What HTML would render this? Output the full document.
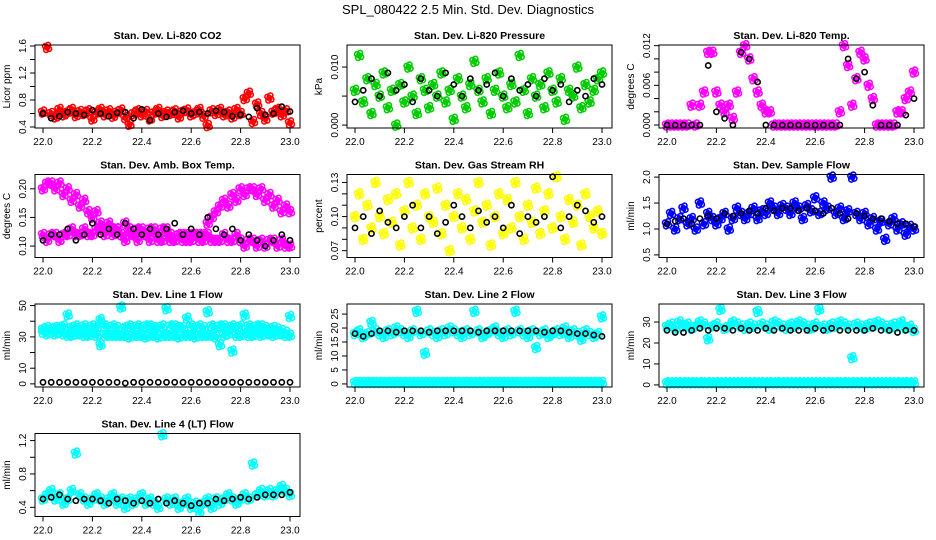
<!DOCTYPE html>
<html><head><meta charset="utf-8"><style>
body{margin:0;background:#fff;}
svg{display:block;font-family:"Liberation Sans",sans-serif;}
</style></head><body>
<svg id="chart" width="936" height="540" viewBox="0 0 936 540" xmlns="http://www.w3.org/2000/svg">
<rect x="0" y="0" width="936" height="540" fill="#fff"/>
<text x="468" y="14" text-anchor="middle" font-size="13">SPL_080422  2.5 Min. Std. Dev. Diagnostics</text>
<g id="plots"></g>
</svg>
<script>
const times = [22.0,22.0167,22.0333,22.05,22.0667,22.0833,22.1,22.1167,22.1333,22.15,22.1667,22.1833,22.2,22.2167,22.2333,22.25,22.2667,22.2833,22.3,22.3167,22.3333,22.35,22.3667,22.3833,22.4,22.4167,22.4333,22.45,22.4667,22.4833,22.5,22.5167,22.5333,22.55,22.5667,22.5833,22.6,22.6167,22.6333,22.65,22.6667,22.6833,22.7,22.7167,22.7333,22.75,22.7667,22.7833,22.8,22.8167,22.8333,22.85,22.8667,22.8833,22.9,22.9167,22.9333,22.95,22.9667,22.9833,23.0];
const xTicks = [22.0,22.2,22.4,22.6,22.8,23.0];
const xTickLabels = ["22.0","22.2","22.4","22.6","22.8","23.0"];

const co2Red = [0.62,1.58,0.6,0.55,0.66,0.58,0.62,0.66,0.57,0.63,0.6,0.64,0.52,0.61,0.66,0.58,0.64,0.56,0.62,0.65,0.54,0.44,0.6,0.64,0.58,0.63,0.52,0.61,0.66,0.57,0.62,0.6,0.64,0.55,0.63,0.65,0.58,0.61,0.66,0.56,0.42,0.64,0.6,0.66,0.58,0.62,0.55,0.66,0.6,0.82,0.9,0.48,0.74,0.6,0.52,0.83,0.62,0.66,0.58,0.64,0.46];
const co2Black = [0.6,0.53,0.56,0.62,0.6,0.58,0.65,0.6,0.56,0.61,0.62,0.53,0.66,0.5,0.6,0.55,0.62,0.64,0.6,0.62,0.6,0.64,0.62,0.56,0.58,0.55,0.68,0.58,0.6,0.7,0.63];
const presGreen = [0.006,0.012,0.004,0.008,0.002,0.007,0.005,0.009,0.003,0.006,0.0,0.007,0.004,0.01,0.005,0.002,0.008,0.006,0.003,0.007,0.005,0.009,0.004,0.006,0.001,0.008,0.005,0.003,0.007,0.011,0.006,0.004,0.008,0.002,0.006,0.009,0.005,0.003,0.007,0.004,0.012,0.006,0.002,0.008,0.005,0.007,0.003,0.009,0.006,0.004,0.008,0.001,0.006,0.005,0.01,0.003,0.007,0.004,0.006,0.008,0.009];
const presBlack = [0.004,0.006,0.008,0.005,0.009,0.006,0.007,0.004,0.008,0.006,0.005,0.009,0.007,0.005,0.008,0.006,0.007,0.009,0.005,0.008,0.006,0.007,0.005,0.008,0.006,0.007,0.004,0.006,0.005,0.008,0.007];
const tempMag = [0,0,0,0,0,0,0.003,0,0.003,0.005,0.011,0.011,0.005,0.003,0.002,0.003,0.001,0.005,0.011,0.012,0.01,0.007,0.005,0.003,0.002,0.002,0,0,0,0,0,0,0,0,0,0,0,0,0,0,0,0,0.002,0.012,0.009,0.003,0.007,0.011,0.01,0.006,0.004,0,0,0,0,0,0.002,0.002,0.004,0.005,0.008];
const tempBlack = [0,0,0,0,0,0.009,0.002,0.001,0,0.011,0.01,0.0065,0,0,0,0,0,0,0,0,0,0,0.01,0.007,0.008,0.003,0,0,0,0.0015,0.004];
const ambMagA = [0.2,0.21,0.21,0.2,0.21,0.19,0.2,0.18,0.19,0.17,0.18,0.16,0.15,0.16,0.14,0.13,0.14,0.12,0.13,0.12,0.11,0.12,0.12,0.11,0.12,0.12,0.11,0.12,0.11,0.11,0.12,0.11,0.11,0.12,0.11,0.12,0.11,0.12,0.11,0.12,0.14,0.15,0.16,0.17,0.18,0.17,0.19,0.18,0.2,0.19,0.2,0.2,0.19,0.2,0.18,0.19,0.17,0.18,0.16,0.17,0.16];
const ambMagB = [0.12,0.11,0.12,0.12,0.11,0.12,0.12,0.13,0.12,0.12,0.13,0.12,0.12,0.13,0.13,0.12,0.13,0.13,0.13,0.12,0.14,0.13,0.12,0.13,0.13,0.12,0.13,0.13,0.12,0.13,0.13,0.12,0.11,0.12,0.12,0.11,0.12,0.12,0.12,0.11,0.12,0.11,0.11,0.11,0.12,0.11,0.11,0.12,0.11,0.1,0.11,0.11,0.1,0.11,0.1,0.11,0.11,0.1,0.11,0.1,0.1];
const ambBlack = [0.11,0.12,0.12,0.13,0.11,0.12,0.14,0.12,0.13,0.12,0.14,0.13,0.12,0.13,0.12,0.13,0.14,0.12,0.13,0.12,0.15,0.13,0.12,0.13,0.11,0.12,0.11,0.1,0.11,0.12,0.11];
const rhYellow = [0.1,0.12,0.08,0.11,0.09,0.13,0.1,0.085,0.115,0.095,0.12,0.075,0.105,0.13,0.09,0.11,0.08,0.12,0.1,0.095,0.125,0.085,0.11,0.07,0.1,0.12,0.09,0.115,0.08,0.105,0.13,0.095,0.11,0.075,0.1,0.12,0.085,0.115,0.09,0.13,0.1,0.08,0.11,0.095,0.125,0.085,0.105,0.12,0.09,0.135,0.1,0.08,0.115,0.095,0.11,0.075,0.12,0.1,0.09,0.105,0.085];
const rhBlack = [0.09,0.1,0.085,0.105,0.095,0.09,0.1,0.11,0.09,0.1,0.085,0.095,0.11,0.1,0.09,0.105,0.095,0.1,0.09,0.11,0.085,0.1,0.095,0.1,0.135,0.09,0.1,0.11,0.105,0.095,0.1];
const flowBlue = [1.1,1.3,1.0,1.2,1.4,1.1,1.2,1.0,1.5,1.1,1.3,1.2,1.1,1.2,1.3,1.0,1.2,1.4,1.3,1.2,1.3,1.4,1.2,1.35,1.3,1.5,1.4,1.3,1.45,1.4,1.3,1.5,1.4,1.2,1.45,1.35,1.6,1.3,1.5,1.4,2.0,1.3,1.4,1.2,1.35,2.0,1.3,1.2,1.3,1.1,1.2,1.0,1.15,0.8,1.1,1.2,1.0,1.1,0.9,1.05,1.0];
const flowBlack = [1.1,1.15,1.2,1.1,1.2,1.25,1.2,1.3,1.25,1.3,1.35,1.3,1.4,1.35,1.4,1.4,1.35,1.4,1.35,1.3,1.4,1.3,1.2,1.3,1.25,1.2,1.2,1.15,1.1,1.1,1.05];
const line1A = [35,36,35,36,36,37,44,36,37,36,37,36,37,36,41,37,36,37,36,49,36,37,36,37,36,37,37,36,36,37,48,37,37,36,36,42,37,36,37,36,46,37,36,37,37,36,37,36,37,44,37,36,37,37,36,35,36,35,34,33,43];
const line1B = [33,32,33,32,33,32,31,31,32,32,31,31,32,31,25,31,31,31,31,31,31,30,31,31,31,30,31,31,30,31,31,31,31,30,31,31,31,30,31,31,31,31,30,25,31,32,21,31,31,32,31,31,32,31,32,32,31,32,32,31,31];
const line1Black = [1,1,1,1,1,1,1,1,1,1,0.5,1,1,1,1,1,1,1,1,1,1,1,1,1,1,1,1,1,1,1,1];
const line2A = [18,19,17,18,22,19,18,17,19,18,20,19,18,17,19,26,18,11,19,18,17,19,18,20,19,18,17,19,18,26,19,17,18,19,20,18,17,19,18,26,19,18,17,19,13,18,19,17,18,19,18,20,17,19,18,16,19,18,17,18,24];
const line2B = [0.5,0.5,0.5,0.5,0.5,0.5,0.5,0.5,0.5,0.5,0.5,0.5,0.5,0.5,0.5,0.5,0.5,0.5,0.5,0.5,0.5,0.5,0.5,0.5,0.5,0.5,0.5,0.5,0.5,0.5,0.5,0.5,0.5,0.5,0.5,0.5,0.5,0.5,0.5,0.5,0.5,0.5,0.5,0.5,0.5,0.5,0.5,0.5,0.5,0.5,0.5,0.5,0.5,0.5,0.5,0.5,0.5,0.5,0.5,0.5,0.5];
const line2Black = [18,17,18,19,19,18.5,19,19,19,18.5,19,19,19,19,19,18.5,19,19,19,19,19,19,19,18.5,19,19,18.5,18,18,17.5,17];
const line3A = [28,29,27,30,28,29,27,28,30,29,22,28,29,36,27,28,30,29,28,27,29,28,35,29,28,27,30,29,28,27,29,28,30,29,28,27,29,36,28,27,29,28,30,29,28,13,29,28,27,29,28,30,29,28,27,29,28,30,27,28,26];
const line3B = [1,1,1,1,1,1,1,1,1,1,1,1,1,1,1,1,1,1,1,1,1,1,1,1,1,1,1,1,1,1,1,1,1,1,1,1,1,1,1,1,1,1,1,1,1,1,1,1,1,1,1,1,1,1,1,1,1,1,1,1,1];
const line3Black = [26,25,25,26,27,26,27,27,26,27,26,26,27,26,27,26,26,26,27,26,27,26,26,26,26,27,26,26,25,26,26];
const line4Cyan = [0.5,0.55,0.6,0.5,0.55,0.45,0.5,0.6,1.05,0.55,0.5,0.45,0.5,0.55,0.5,0.45,0.5,0.55,0.45,0.5,0.4,0.5,0.45,0.5,0.55,0.45,0.5,0.45,0.4,1.27,0.5,0.45,0.5,0.4,0.45,0.5,0.4,0.45,0.35,0.45,0.5,0.4,0.5,0.45,0.5,0.55,0.5,0.45,0.5,0.55,0.5,0.92,0.55,0.6,0.55,0.6,0.55,0.6,0.65,0.6,0.55];
const line4Black = [0.5,0.52,0.55,0.5,0.48,0.5,0.5,0.48,0.45,0.5,0.48,0.45,0.48,0.45,0.5,0.45,0.48,0.45,0.42,0.45,0.45,0.5,0.48,0.5,0.52,0.5,0.52,0.55,0.55,0.55,0.58];

const panels = [
 {name:"co2",title:"Stan. Dev. Li-820 CO2",ylab:"Licor ppm",r:0,c:0,lo:0.385,hi:1.615,ticks:[0.4,0.8,1.2,1.6],labels:["0.4","0.8","1.2","1.6"],minor:[0.6,1.0,1.4],col:[[co2Red,"#ff0000"]],blk:co2Black},
 {name:"pressure",title:"Stan. Dev. Li-820 Pressure",ylab:"kPa",r:0,c:1,lo:-0.0005,hi:0.0138,ticks:[0,0.01],labels:["0.000","0.010"],minor:[0.005],col:[[presGreen,"#00cc00"]],blk:presBlack},
 {name:"temp",title:"Stan. Dev. Li-820 Temp.",ylab:"degrees C",r:0,c:2,lo:-0.00045,hi:0.0121,ticks:[0,0.006,0.012],labels:["0.000","0.006","0.012"],minor:[0.002,0.004,0.008,0.01],col:[[tempMag,"#ff00ff"]],blk:tempBlack},
 {name:"amb-box-temp",title:"Stan. Dev. Amb. Box Temp.",ylab:"degrees C",r:1,c:0,lo:0.08,hi:0.225,ticks:[0.1,0.15,0.2],labels:["0.10","0.15","0.20"],minor:[],col:[[ambMagA,"#ff00ff"],[ambMagB,"#ff00ff"]],blk:ambBlack},
 {name:"gas-rh",title:"Stan. Dev. Gas Stream RH",ylab:"percent",r:1,c:1,lo:0.064,hi:0.137,ticks:[0.07,0.1,0.13],labels:["0.07","0.10","0.13"],minor:[0.08,0.09,0.11,0.12],col:[[rhYellow,"#ffff00"]],blk:rhBlack},
 {name:"sample-flow",title:"Stan. Dev. Sample Flow",ylab:"ml/min",r:1,c:2,lo:0.45,hi:2.05,ticks:[0.5,1.0,1.5,2.0],labels:["0.5","1.0","1.5","2.0"],minor:[],col:[[flowBlue,"#0000ff"]],blk:flowBlack},
 {name:"line1",title:"Stan. Dev. Line 1 Flow",ylab:"ml/min",r:2,c:0,lo:-2,hi:51,ticks:[0,10,30,50],labels:["0","10","30","50"],minor:[20,40],col:[[line1A,"#00ffff"],[line1B,"#00ffff"]],blk:line1Black},
 {name:"line2",title:"Stan. Dev. Line 2 Flow",ylab:"ml/min",r:2,c:1,lo:-1.1,hi:28.6,ticks:[0,5,10,15,20,25],labels:["0","5","10","15","20","25"],minor:[],col:[[line2A,"#00ffff"],[line2B,"#00ffff"]],blk:line2Black},
 {name:"line3",title:"Stan. Dev. Line 3 Flow",ylab:"ml/min",r:2,c:2,lo:-1,hi:38.6,ticks:[0,10,20,30],labels:["0","10","20","30"],minor:[],col:[[line3A,"#00ffff"],[line3B,"#00ffff"]],blk:line3Black},
 {name:"line4",title:"Stan. Dev. Line 4 (LT) Flow",ylab:"ml/min",r:3,c:0,lo:0.29,hi:1.285,ticks:[0.4,0.8,1.2],labels:["0.4","0.8","1.2"],minor:[0.6,1.0],col:[[line4Cyan,"#00ffff"]],blk:line4Black}
];

const NS="http://www.w3.org/2000/svg";
const root=document.getElementById("plots");
const jitter=[[0,0],[2,1.5],[-2,-1.2],[1,-2.5],[-1,2.5]];
function mk(tag,attrs,parent){const e=document.createElementNS(NS,tag);for(const k in attrs)e.setAttribute(k,attrs[k]);parent.appendChild(e);return e;}

panels.forEach(p=>{
  const x22=43+312*p.c, x23=290+312*p.c;
  const L=x22-8, R=x23+10, T=45+129.5*p.r, B=128+129.5*p.r;
  const xs=v=>x22+(v-22)*(x23-x22);
  const ys=v=>B-(v-p.lo)/(p.hi-p.lo)*(B-T);
  const g=mk("g",{},root);
  
  
  const t=mk("text",{x:(L+R)/2,y:T-6,"text-anchor":"middle","font-size":"10.5","font-weight":"bold"},g);
  t.textContent=p.title;
  
  
  const pts=mk("g",{fill:"none","stroke-width":"1.6"},g);
  
  
  p.col.forEach(([arr,color])=>{
    arr.forEach((v,i)=>{
      jitter.forEach(([dx,dy])=>{
        const c=mk("circle",{cx:(xs(times[i])+dx).toFixed(1),cy:(ys(v)+dy).toFixed(1),r:"2.5",stroke:color},pts);
        
        
      });
    });
  });
  p.blk.forEach((v,i)=>{
    const c=mk("circle",{cx:xs(times[i*2]).toFixed(1),cy:ys(v).toFixed(1),r:"2.6",stroke:"#000"},pts);
    
    
  });
  const box=mk("rect",{x:L,y:T,width:R-L,height:B-T,fill:"none",stroke:"#000","stroke-width":"1"},g);
  
  
  xTicks.forEach((v,i)=>{
    mk("line",{x1:xs(v),x2:xs(v),y1:B,y2:B+5,stroke:"#000"},g);
    const tl=mk("text",{x:xs(v),y:B+17,"text-anchor":"middle","font-size":"10"},g);
    tl.textContent=xTickLabels[i];
    
    
  });
  p.minor.forEach(v=>mk("line",{x1:L-5,x2:L,y1:ys(v),y2:ys(v),stroke:"#000"},g));
  p.ticks.forEach((v,i)=>{
    mk("line",{x1:L-5,x2:L,y1:ys(v),y2:ys(v),stroke:"#000"},g);
    const yv=ys(v);
    const tl=mk("text",{x:L-9,y:yv,"text-anchor":"middle","font-size":"10",transform:`rotate(-90 ${L-9} ${yv})`},g);
    tl.textContent=p.labels[i];
    
    
  });
  const ym=(T+B)/2;
  const yl=mk("text",{x:L-25,y:ym,"text-anchor":"middle","font-size":"10",transform:`rotate(-90 ${L-25} ${ym})`},g);
  yl.textContent=p.ylab;
  
  
});
</script>
</body></html>
